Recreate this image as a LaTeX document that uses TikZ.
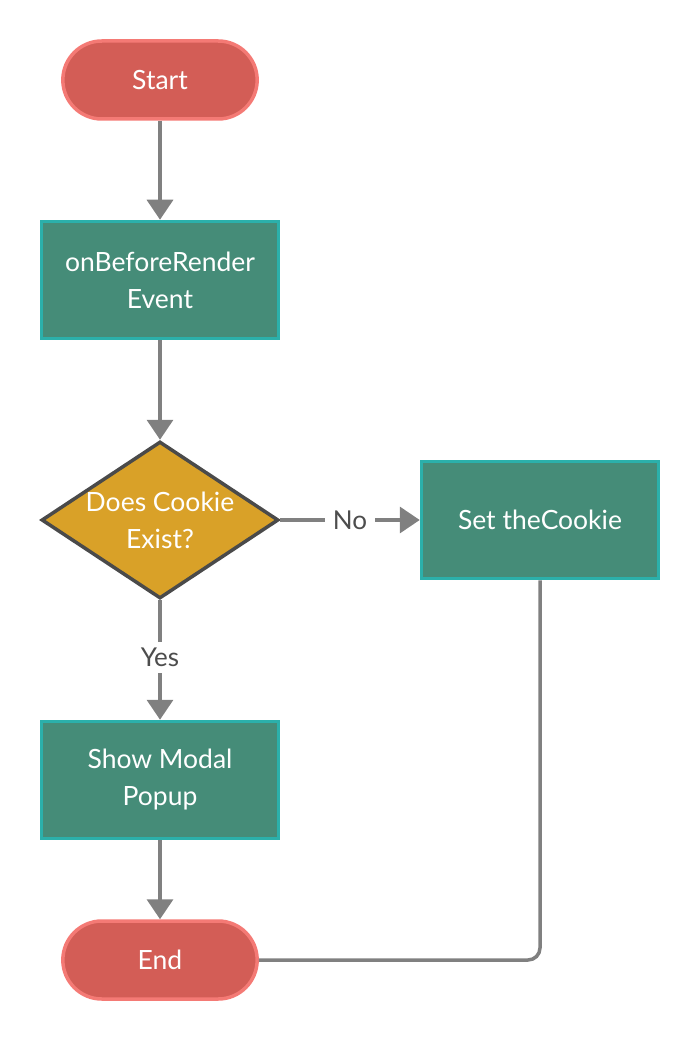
\documentclass[tikz,border=0pt]{standalone}
\usepackage{fontspec}
\setmainfont{Lato}
\usetikzlibrary{arrows.meta,shapes.geometric,shapes.misc}
\definecolor{termfill}{HTML}{D35D56}
\definecolor{termline}{HTML}{F47A75}
\definecolor{procfill}{HTML}{458C78}
\definecolor{procline}{HTML}{2BB0AA}
\definecolor{decfill}{HTML}{D9A128}
\definecolor{decline}{HTML}{4A4A4A}
\definecolor{conn}{HTML}{808080}
\definecolor{lbl}{HTML}{4D4D4D}
\tikzset{
  term/.style={rounded rectangle, draw=termline, fill=termfill, line width=3.5pt, minimum width=201pt, minimum height=78pt, text=white, font=\fontsize{26.5}{37}\selectfont},
  proc/.style={rectangle, draw=procline, fill=procfill, line width=3.5pt, minimum width=237pt, minimum height=117pt, text=white, align=center, font=\fontsize{26.5}{37}\selectfont},
  dec/.style={diamond, draw=decline, fill=decfill, line width=3.5pt, minimum width=237pt, minimum height=157pt, aspect=1.5, inner sep=0pt, text=white, align=center, font=\fontsize{26.5}{37}\selectfont},
  conn/.style={draw=conn, line width=3.5pt},
  arr/.style={conn, -{Triangle[width=26pt,length=20pt]}},
  lab/.style={fill=white, text=lbl, font=\fontsize{26}{30}\selectfont, inner sep=2pt}
}
\begin{document}
\begin{tikzpicture}[x=1pt,y=-1pt]
\useasboundingbox (0,0) rectangle (700,1040);
\node[term] (start) at (160,80) {Start};
\node[proc] (ev) at (160,280) {onBeforeRender\\Event};
\node[dec] (d) at (160,520) {Does Cookie\\Exist?};
\node[proc] (set) at (540,520) {Set theCookie};
\node[proc] (modal) at (160,780) {Show Modal\\Popup};
\node[term] (end) at (160,960) {End};
\draw[arr] (start.south) -- (ev.north);
\draw[arr] (ev.south) -- (d.north);
\draw[arr] (d.east) -- node[lab, pos=0.5, inner xsep=8pt] {No} (set.west);
\draw[arr] (d.south) -- node[lab, pos=0.48, inner ysep=6pt] {Yes} (modal.north);
\draw[arr] (modal.south) -- (end.north);
\draw[conn, rounded corners=12pt] (set.south) |- (end.east);
\end{tikzpicture}
\end{document}
